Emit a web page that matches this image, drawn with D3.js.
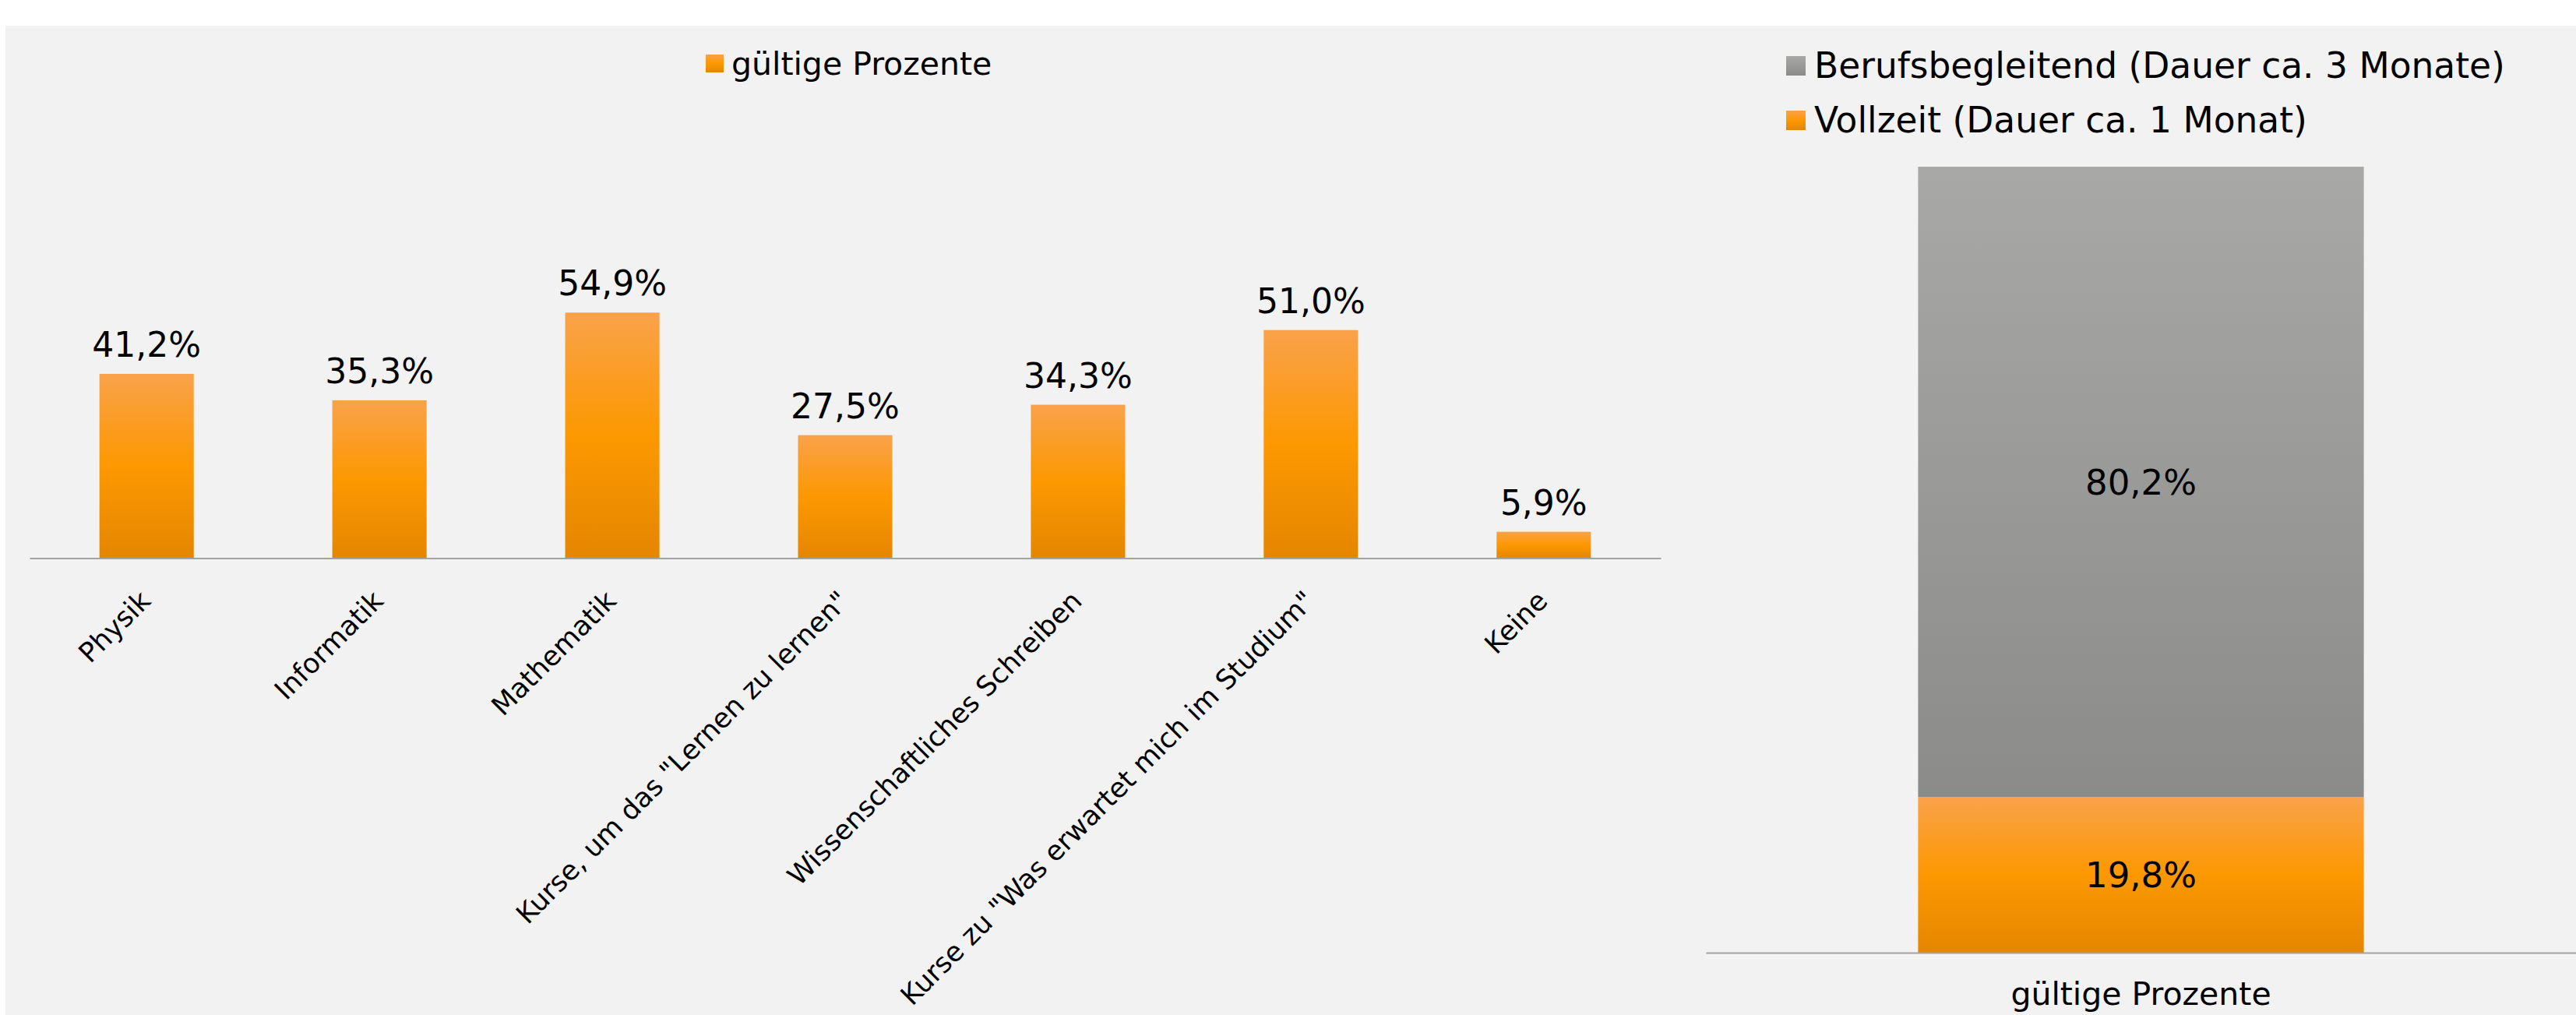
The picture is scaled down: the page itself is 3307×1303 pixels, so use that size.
<!DOCTYPE html>
<html>
<head>
<meta charset="utf-8">
<script src="https://cdn.jsdelivr.net/npm/d3@7"></script>
<style>
  html, body { margin: 0; padding: 0; background: #ffffff; }
  svg { display: block; font-family: "DejaVu Sans", Verdana, sans-serif; }
</style>
</head>
<body>
<svg width="3307" height="1303"></svg>
<script>
// data
const categories = ['Physik', 'Informatik', 'Mathematik', 'Kurse, um das "Lernen zu lernen"',
  'Wissenschaftliches Schreiben', 'Kurse zu "Was erwartet mich im Studium"', 'Keine'];
const percentValues = [41.2, 35.3, 54.9, 27.5, 34.3, 51.0, 5.9];
const leftSeries = 'gültige Prozente';

const stackCategory = ['gültige Prozente'];
const stackSeries = ['Vollzeit (Dauer ca. 1 Monat)', 'Berufsbegleitend (Dauer ca. 3 Monate)'];
const vollzeit = [19.8];
const berufsbegleitend = [80.2];

const fmt = v => d3.format('.1f')(v).replace('.', ',') + '%';

const svg = d3.select('svg');

// background
svg.append('rect')
  .attr('x', 7).attr('y', 33)
  .attr('width', 3300).attr('height', 1270)
  .attr('fill', '#f2f2f2');

// gradients
const defs = svg.append('defs');
const orange = defs.append('linearGradient')
  .attr('id', 'orange').attr('x1', 0).attr('y1', 0).attr('x2', 0).attr('y2', 1);
orange.append('stop').attr('offset', '0%').attr('stop-color', '#f9a24a');
orange.append('stop').attr('offset', '50%').attr('stop-color', '#fd9800');
orange.append('stop').attr('offset', '100%').attr('stop-color', '#e48600');
const grey = defs.append('linearGradient')
  .attr('id', 'grey').attr('x1', 0).attr('y1', 0).attr('x2', 0).attr('y2', 1);
grey.append('stop').attr('offset', '0%').attr('stop-color', '#a8a8a7');
grey.append('stop').attr('offset', '100%').attr('stop-color', '#8b8b89');

// ---- left chart ----
const x = d3.scaleBand()
  .domain(categories)
  .range([38, 2132])
  .paddingInner(0.595)
  .paddingOuter(0.3);

const y = d3.scaleLinear()
  .domain([0, 60])
  .range([716.5, 372]);

const left = svg.append('g');

left.selectAll('rect.bar')
  .data(percentValues)
  .enter()
  .append('rect')
  .attr('class', 'bar')
  .attr('x', (d, i) => x(categories[i]))
  .attr('y', d => y(d))
  .attr('width', x.bandwidth())
  .attr('height', d => y(0) - y(d))
  .attr('fill', 'url(#orange)');

left.selectAll('text.val')
  .data(percentValues)
  .enter()
  .append('text')
  .attr('class', 'val')
  .attr('x', (d, i) => x(categories[i]) + x.bandwidth() / 2)
  .attr('y', d => y(d) - 22)
  .attr('text-anchor', 'middle')
  .attr('font-size', 44)
  .text(d => fmt(d));

const xAxisGroup = left.append('g')
  .attr('transform', `translate(0, ${y(0)})`)
  .call(d3.axisBottom(x).tickSize(0).tickSizeOuter(0));
xAxisGroup.select('.domain').attr('stroke', '#a3a3a3').attr('stroke-width', 2);
xAxisGroup.selectAll('text')
  .attr('font-family', '"DejaVu Sans", Verdana, sans-serif')
  .attr('font-size', 35)
  .attr('fill', '#000')
  .attr('dy', 0)
  .attr('y', 0)
  .attr('transform', 'translate(7, 57) rotate(-45)')
  .attr('text-anchor', 'end');

// legend
left.append('rect')
  .attr('x', 906).attr('y', 70).attr('width', 23).attr('height', 23)
  .attr('fill', 'url(#orange)');
left.append('text')
  .attr('x', 939).attr('y', 96)
  .attr('font-size', 41)
  .text(leftSeries);

// ---- right chart ----
const x2 = d3.scaleBand()
  .domain(stackCategory)
  .range([2190, 3307])
  .paddingInner(0)
  .paddingOuter(0.476);

const y2 = d3.scaleLinear()
  .domain([0, 100])
  .range([1223, 214]);

const stackData = stackCategory.map((c, i) => ({
  cat: c, [stackSeries[0]]: vollzeit[i], [stackSeries[1]]: berufsbegleitend[i]
}));
const stacked = d3.stack().keys(stackSeries)(stackData);
const fills = ['url(#orange)', 'url(#grey)'];

const right = svg.append('g');

stacked.forEach((layer, k) => {
  right.selectAll(null)
    .data(layer)
    .enter()
    .append('rect')
    .attr('x', d => x2(d.data.cat))
    .attr('y', d => y2(d[1]))
    .attr('width', x2.bandwidth())
    .attr('height', d => y2(d[0]) - y2(d[1]))
    .attr('fill', fills[k]);

  right.selectAll(null)
    .data(layer)
    .enter()
    .append('text')
    .attr('x', d => x2(d.data.cat) + x2.bandwidth() / 2)
    .attr('y', d => (y2(d[0]) + y2(d[1])) / 2)
    .attr('dy', '0.36em')
    .attr('text-anchor', 'middle')
    .attr('font-size', 45)
    .text(d => fmt(d[1] - d[0]));
});

const x2AxisGroup = right.append('g')
  .attr('transform', `translate(0, ${y2(0)})`)
  .call(d3.axisBottom(x2).tickSize(0).tickSizeOuter(0));
x2AxisGroup.select('.domain').attr('stroke', '#a3a3a3').attr('stroke-width', 2);
x2AxisGroup.selectAll('text')
  .attr('font-family', '"DejaVu Sans", Verdana, sans-serif')
  .attr('font-size', 41)
  .attr('fill', '#000')
  .attr('dy', 0)
  .attr('y', 67);

// legend (top entry is the upper segment)
const legendItems = [stackSeries[1], stackSeries[0]];
const legendFills = ['url(#grey)', 'url(#orange)'];
legendItems.forEach((name, i) => {
  right.append('rect')
    .attr('x', 2293).attr('y', 72 + i * 70).attr('width', 25).attr('height', 25)
    .attr('fill', legendFills[i]);
  right.append('text')
    .attr('x', 2329).attr('y', 100 + i * 70)
    .attr('font-size', 45.5)
    .text(name);
});
</script>
</body>
</html>
